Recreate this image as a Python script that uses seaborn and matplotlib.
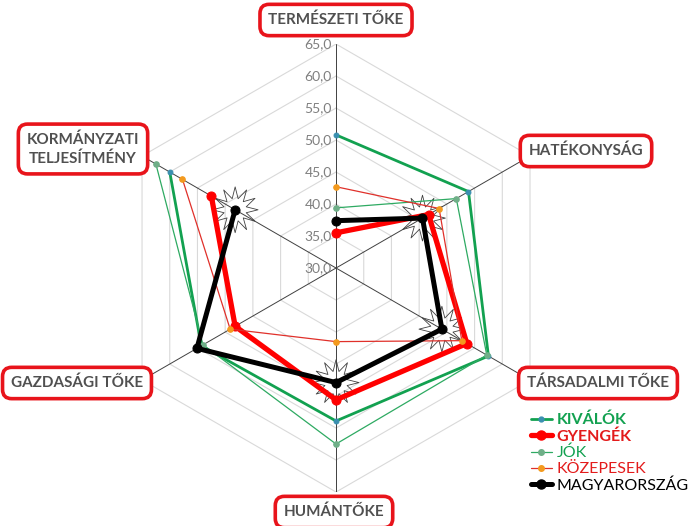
import numpy as np
import pandas as pd
import seaborn as sns
import matplotlib.pyplot as plt
from matplotlib.lines import Line2D

# axes (clockwise from top)
categories = ['TERMÉSZETI TŐKE', 'HATÉKONYSÁG', 'TÁRSADALMI TŐKE',
              'HUMÁNTŐKE', 'GAZDASÁGI TŐKE', 'KORMÁNYZATI\nTELJESÍTMÉNY']

kivalok = [50.8, 53.9, 57.5, 53.9, 54.3, 60.0]
gyengek = [35.5, 46.7, 53.6, 50.6, 48.2, 52.5]
jok = [39.4, 51.7, 57.2, 57.5, 54.0, 62.5]
kozepesek = [42.7, 48.6, 52.7, 41.5, 49.1, 57.7]
magyarorszag = [37.4, 45.6, 49.1, 47.9, 55.1, 48.2]

# axes where Hungary's point is highlighted with a burst shape
burst_idx = [1, 2, 3, 5]

r_ticks = [30, 35, 40, 45, 50, 55, 60, 65]

series = [
    # name, values, line colour, marker colour, lw, marker size, text colour, bold
    ('KIVÁLÓK', kivalok, '#12A150', '#3A8FB0', 2.0, 3.5, '#12A150', True),
    ('GYENGÉK', gyengek, '#FF0000', '#FF0000', 3.8, 6.5, '#E31B1B', True),
    ('JÓK', jok, '#2EAA62', '#6FAF88', 0.9, 4.0, '#12A150', False),
    ('KÖZEPESEK', kozepesek, '#E0302A', '#F39A1E', 0.9, 4.0, '#E31B1B', False),
    ('MAGYARORSZÁG', magyarorszag, '#000000', '#000000', 3.6, 6.5, '#000000', False),
]

sns.set_theme(style='white')
plt.rcParams['font.family'] = ['Lato', 'DejaVu Sans']

fig = plt.figure(figsize=(6.97, 5.26), dpi=100)
ax = fig.add_axes([0.1607, 0.0646, 0.6428, 0.8517], projection='polar')
ax.set_theta_zero_location('N')
ax.set_theta_direction(-1)
ax.set_ylim(r_ticks[0], r_ticks[-1])
ax.grid(False)
ax.spines['polar'].set_visible(False)
ax.set_xticks([])
ax.set_yticks([])
ax.set_facecolor('none')

n = len(categories)
theta = np.arange(n) * 2 * np.pi / n
theta_closed = np.append(theta, theta[0])

# hexagonal grid
for v in r_ticks[1:]:
    ax.plot(theta_closed, [v] * (n + 1), color='#D9D9D9', lw=0.8, zorder=1)
for t in theta:
    ax.plot([t, t], [r_ticks[0], r_ticks[-1]], color='#404040', lw=0.7, zorder=1)

# radial tick labels
for v in r_ticks:
    ax.annotate(f'{v:.1f}'.replace('.', ','), (0, v), xytext=(-3, 0),
                textcoords='offset points', ha='right', va='center',
                fontsize=10, color='#7F7F7F', zorder=2)

# burst shapes behind Hungary's points
ax.scatter(theta[burst_idx], [magyarorszag[i] for i in burst_idx],
           marker=(12, 1, 0), s=33 ** 2, facecolors='none',
           edgecolors='#404040', linewidths=0.6, zorder=2)

handles = []
for name, vals, lc, mc, lw, ms, tc, bold in series:
    df = pd.DataFrame({'theta': theta_closed, 'value': vals + vals[:1]})
    sns.lineplot(data=df, x='theta', y='value', sort=False, ax=ax, color=lc,
                 lw=lw, marker='o', markersize=ms, markerfacecolor=mc,
                 markeredgecolor=mc, zorder=3, legend=False)
    handles.append(Line2D([0], [0], color=lc, lw=lw, marker='o',
                          markersize=ms, markerfacecolor=mc, markeredgecolor=mc))
ax.set_xlabel('')
ax.set_ylabel('')

# category label boxes
label_pos = [(336, 20), (586, 151), (598, 383), (334, 512), (77, 383), (83, 149)]
box = dict(boxstyle='round,pad=0.55,rounding_size=0.6', fc='white',
           ec='#E8141B', lw=2.6)
for lab, (px, py) in zip(categories, label_pos):
    fig.text(px / 697, 1 - py / 526, lab, ha='center', va='center',
             fontsize=11, fontweight='bold', color='#505050',
             bbox=box, linespacing=1.35)

leg = fig.legend(handles, [s[0] for s in series], loc='upper left',
                 bbox_to_anchor=(0.762, 0.215), frameon=False, fontsize=11.5,
                 handlelength=1.3, handletextpad=0.3, labelspacing=0.12,
                 borderpad=0, borderaxespad=0)
for txt, s in zip(leg.get_texts(), series):
    txt.set_color(s[6])
    if s[7]:
        txt.set_fontweight('bold')

fig.savefig('out.png', dpi=100)
